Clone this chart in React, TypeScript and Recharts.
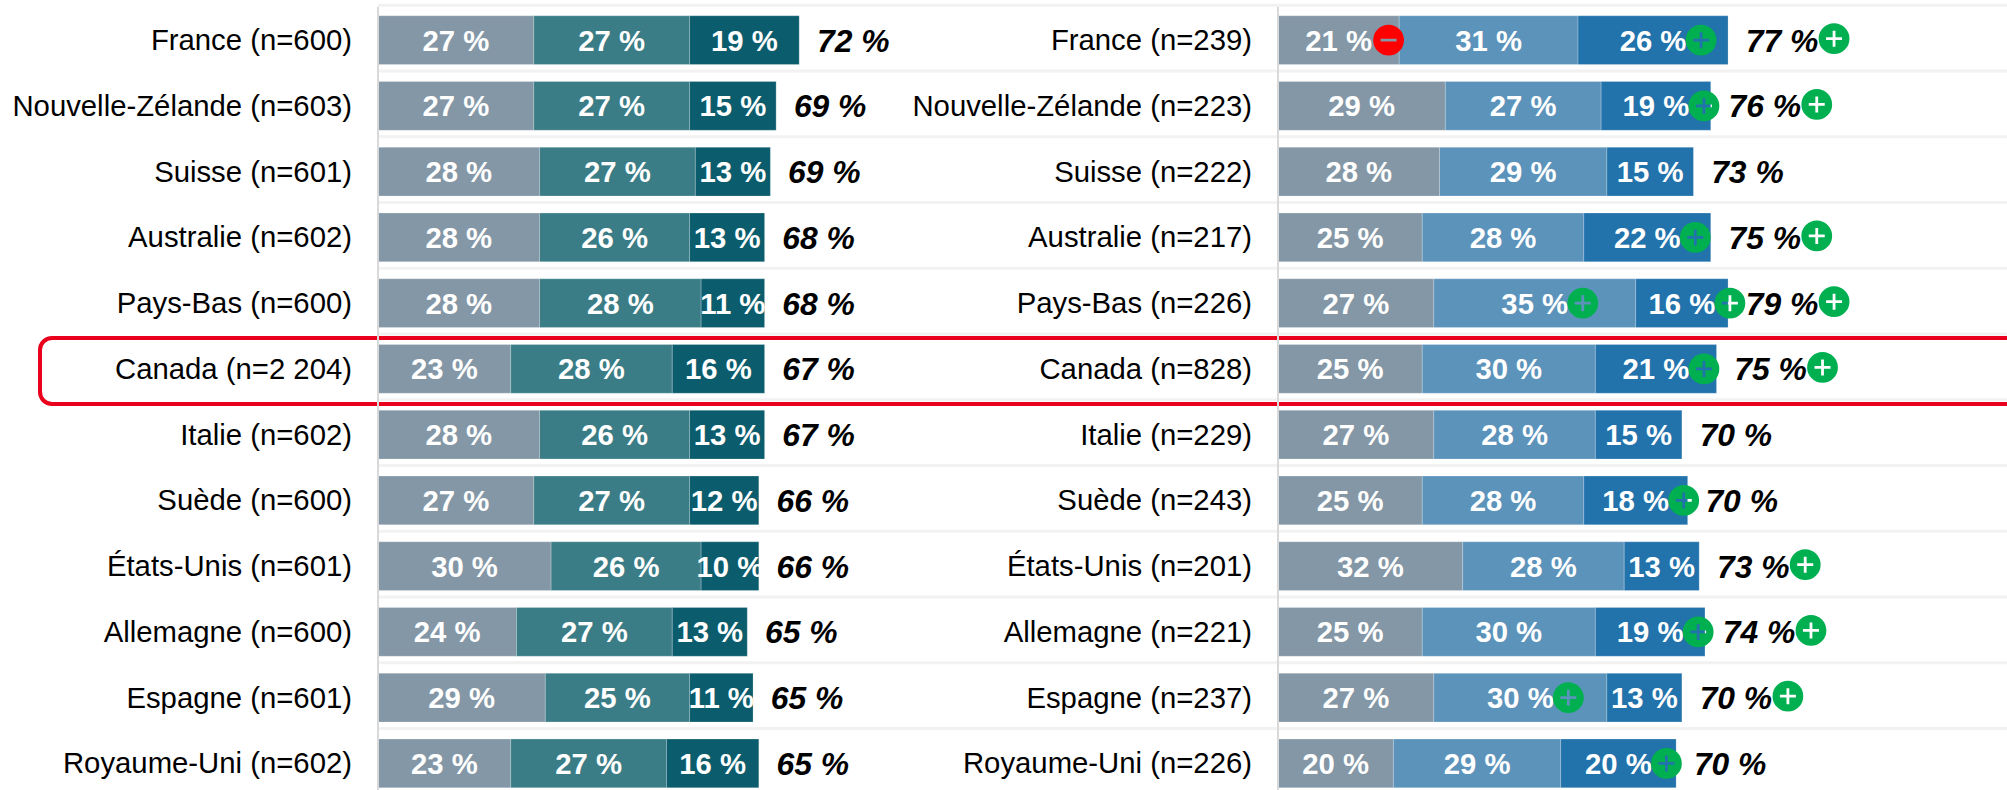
import React from 'react';
import { BarChart, Bar, XAxis, YAxis, CartesianGrid, LabelList } from 'recharts';

const LEFT_NAMES = ['France (n=600)', 'Nouvelle-Zélande (n=603)', 'Suisse (n=601)', 'Australie (n=602)', 'Pays-Bas (n=600)', 'Canada (n=2 204)', 'Italie (n=602)', 'Suède (n=600)', 'États-Unis (n=601)', 'Allemagne (n=600)', 'Espagne (n=601)', 'Royaume-Uni (n=602)'];
const LEFT_A = [27, 27, 28, 28, 28, 23, 28, 27, 30, 24, 29, 23];
const LEFT_B = [27, 27, 27, 26, 28, 28, 26, 27, 26, 27, 25, 27];
const LEFT_C = [19, 15, 13, 13, 11, 16, 13, 12, 10, 13, 11, 16];
const LEFT_TOTAL = [72, 69, 69, 68, 68, 67, 67, 66, 66, 65, 65, 65];

const RIGHT_NAMES = ['France (n=239)', 'Nouvelle-Zélande (n=223)', 'Suisse (n=222)', 'Australie (n=217)', 'Pays-Bas (n=226)', 'Canada (n=828)', 'Italie (n=229)', 'Suède (n=243)', 'États-Unis (n=201)', 'Allemagne (n=221)', 'Espagne (n=237)', 'Royaume-Uni (n=226)'];
const RIGHT_A = [21, 29, 28, 25, 27, 25, 27, 25, 32, 25, 27, 20];
const RIGHT_B = [31, 27, 29, 28, 35, 30, 28, 28, 28, 30, 30, 29];
const RIGHT_C = [26, 19, 15, 22, 16, 21, 15, 18, 13, 19, 13, 20];
const RIGHT_TOTAL = [77, 76, 73, 75, 79, 75, 70, 70, 73, 74, 70, 70];

// significance marks: '+' / '-' / ''
const RIGHT_SIG_A = ['-', '', '', '', '', '', '', '', '', '', '', ''];
const RIGHT_SIG_B = ['', '', '', '', '+', '', '', '', '', '', '+', ''];
const RIGHT_SIG_C = ['+', '+', '', '+', '+', '+', '', '+', '', '+', '', '+'];
const RIGHT_SIG_TOTAL = ['+', '+', '', '+', '+', '+', '', '', '+', '+', '+', ''];

const NO_SIG = LEFT_NAMES.map(() => '');
const PX_PER_PCT = 5.77;
const FONT = '"Liberation Sans", Arial, sans-serif';

const makeRows = (names: string[], a: number[], b: number[], c: number[], total: number[]) =>
  names.map((name, i) => ({ name, a: a[i], b: b[i], c: c[i], total: total[i] }));

// circle with the sign cut out, so the bar shows through it
const Badge = ({ cx, cy, sign }: { cx: number; cy: number; sign: string }) => {
  const r = 15.4;
  const circle = `M${cx - r},${cy}a${r},${r} 0 1,0 ${2 * r},0a${r},${r} 0 1,0 ${-2 * r},0Z`;
  const l = 8;
  const t = 1.4;
  const minus = `M${cx - l},${cy - t}h${2 * l}v${2 * t}h${-2 * l}Z`;
  const plus = `M${cx - t},${cy - l}h${2 * t}v${l - t}h${l - t}v${2 * t}h${t - l}v${l - t}h${-2 * t}v${t - l}h${t - l}v${-2 * t}h${l - t}Z`;
  return (
    <path
      d={circle + (sign === '+' ? plus : minus)}
      fill={sign === '+' ? '#00b050' : '#ff0000'}
      fillRule="evenodd"
    />
  );
};

const segmentLabel = (sig: string[]) => (props: any) => {
  const { x, y, width, height, value, index } = props;
  const cx = x + width / 2;
  const cy = y + height / 2;
  const mark = sig[index];
  return (
    <g>
      <text x={cx} y={cy} fill="#fff" fontSize={29.3} fontWeight={700} textAnchor="middle" dominantBaseline="central">
        {value} %
      </text>
      {mark ? <Badge cx={cx + (mark === '-' ? 50 : 48)} cy={cy} sign={mark} /> : null}
    </g>
  );
};

const totalLabel = (sig: string[]) => (props: any) => {
  const { x, y, width, height, value, index } = props;
  const cx = x + width + 54;
  const cy = y + height / 2;
  return (
    <g>
      <text x={cx} y={cy + 0.5} fill="#000" fontSize={31.8} fontWeight={700} fontStyle="italic" textAnchor="middle" dominantBaseline="central">
        {value} %
      </text>
      {sig[index] ? <Badge cx={cx + 52} cy={cy - 1.5} sign={sig[index]} /> : null}
    </g>
  );
};

const gridLines = ({ offset }: any) =>
  Array.from({ length: 12 }, (_, i) => offset.top + (i * offset.height) / 12 - 1.5);

type PanelProps = {
  left: number;
  width: number;
  rows: any[];
  colors: string[];
  sigA: string[];
  sigB: string[];
  sigC: string[];
  sigTotal: string[];
  grid: boolean;
};

const Panel = ({ left, width, rows, colors, sigA, sigB, sigC, sigTotal, grid }: PanelProps) => {
  const axisWidth = 378;
  const edge = `rgba(255,255,255,0.22)`;
  return (
    <div style={{ position: 'absolute', left, top: 0 }}>
      <BarChart
        width={width}
        height={800}
        data={rows}
        layout="vertical"
        margin={{ top: 6.8, right: 0, bottom: 4.2, left: 0 }}
        barSize={48.7}
      >
        {grid && (
          <CartesianGrid vertical={false} stroke="#f2f2f2" strokeWidth={3} horizontalCoordinatesGenerator={gridLines} />
        )}
        <XAxis type="number" hide domain={[0, (width - axisWidth) / PX_PER_PCT]} />
        <YAxis
          type="category"
          dataKey="name"
          width={axisWidth}
          interval={0}
          axisLine={{ stroke: '#d9d9d9', strokeWidth: 2 }}
          tickLine={false}
          tickSize={0}
          tickMargin={26}
          tick={{ fontSize: 29.3, fill: '#000' }}
        />
        <Bar dataKey="a" stackId="s" fill={colors[0]} stroke={edge} isAnimationActive={false}>
          <LabelList dataKey="a" content={segmentLabel(sigA)} />
        </Bar>
        <Bar dataKey="b" stackId="s" fill={colors[1]} stroke={edge} isAnimationActive={false}>
          <LabelList dataKey="b" content={segmentLabel(sigB)} />
        </Bar>
        <Bar dataKey="c" stackId="s" fill={colors[2]} stroke={edge} isAnimationActive={false}>
          <LabelList dataKey="c" content={segmentLabel(sigC)} />
          <LabelList dataKey="total" content={totalLabel(sigTotal)} />
        </Bar>
      </BarChart>
    </div>
  );
};

export default function App() {
  return (
    <div style={{ position: 'absolute', left: 0, top: 0, width: 2007, height: 790, overflow: 'hidden', background: '#fff', fontFamily: FONT }}>
      {/* Canada highlight, runs off the right edge */}
      <div style={{ position: 'absolute', left: 38, top: 336, width: 2100, height: 70, boxSizing: 'border-box', border: '4px solid #e8001c', borderRadius: 14 }} />
      <Panel left={0} width={2007} rows={makeRows(LEFT_NAMES, LEFT_A, LEFT_B, LEFT_C, LEFT_TOTAL)} colors={['#8497a6', '#3b7d86', '#0b5c6c']} sigA={NO_SIG} sigB={NO_SIG} sigC={NO_SIG} sigTotal={NO_SIG} grid />
      <Panel left={899.5} width={1107.5} rows={makeRows(RIGHT_NAMES, RIGHT_A, RIGHT_B, RIGHT_C, RIGHT_TOTAL)} colors={['#8497a6', '#5c93bb', '#2272ab']} sigA={RIGHT_SIG_A} sigB={RIGHT_SIG_B} sigC={RIGHT_SIG_C} sigTotal={RIGHT_SIG_TOTAL} grid={false} />
    </div>
  );
}
